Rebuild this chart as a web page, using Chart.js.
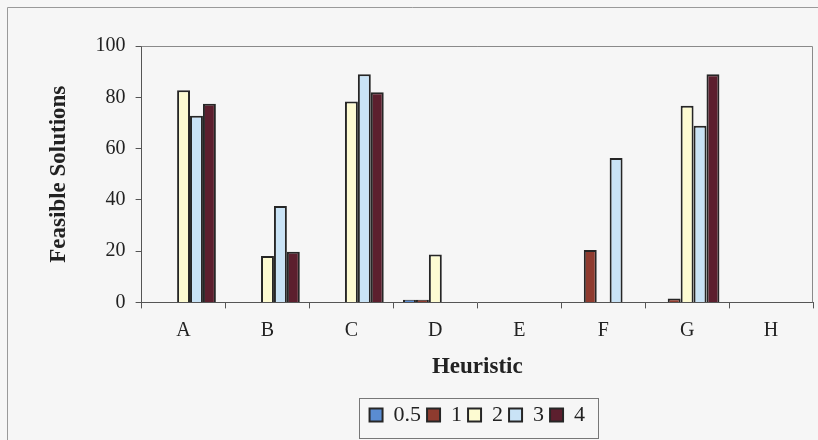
<!DOCTYPE html>
<html>
<head>
<meta charset="utf-8">
<script src="https://cdn.jsdelivr.net/npm/chart.js@4"></script>
<style>
    html, body { margin: 0; padding: 0; background: #f6f6f6; }
    #box { width: 818px; height: 440px; position: relative; }
</style>
</head>
<body>
<div id="box"><canvas id="grafico" width="818" height="440"></canvas></div>
<script>
const heuristicas = ['A', 'B', 'C', 'D', 'E', 'F', 'G', 'H'];
const series = ['0.5', '1', '2', '3', '4'];
const v05 = [0, 0, 0, 1, 0, 0, 0, 0];
const v1 = [0, 0, 0, 1, 0, 20.4, 1.5, 0];
const v2 = [82.7, 18.1, 78.4, 18.7, 0, 0, 76.7, 0];
const v3 = [72.8, 37.6, 89, 0, 0, 56.3, 68.9, 0];
const v4 = [77.5, 19.8, 82, 0, 0, 0, 89, 0];
const ticksY = [0, 20, 40, 60, 80, 100];

const valores = [v05, v1, v2, v3, v4];
const cores = ['#5a8cd2', '#8e3b2f', '#fdfbd2', '#c9e3f6', '#5c1f2e'];

const serif = '"Liberation Serif", "Times New Roman", serif';

// legenda centrada sob a area do grafico
const centrarLegenda = {
    id: 'centrarLegenda',
    afterLayout(chart) {
        const l = chart.legend;
        const a = chart.chartArea;
        l.left = a.left;
        l.right = a.right;
    }
};

// moldura externa, borda da area do grafico e caixa da legenda
const molduras = {
    id: 'molduras',
    afterDraw(chart) {
        const ctx = chart.ctx;
        const a = chart.chartArea;
        ctx.save();
        ctx.strokeStyle = '#8a8a8a';
        ctx.lineWidth = 1;
        ctx.beginPath();
        ctx.moveTo(a.left, a.top + 0.5);
        ctx.lineTo(a.right - 0.5, a.top + 0.5);
        ctx.lineTo(a.right - 0.5, a.bottom);
        ctx.stroke();

        ctx.strokeStyle = '#9a9a9a';
        ctx.beginPath();
        ctx.moveTo(7.5, 440);
        ctx.lineTo(7.5, 7.5);
        ctx.lineTo(818, 7.5);
        ctx.stroke();

        const l = chart.legend;
        const meioX = (l.left + l.right) / 2;
        const meioY = (l.top + l.bottom) / 2;
        const larg = l.lineWidths ? l.lineWidths[0] : 220;
        const esq = Math.round(meioX - larg / 2) - 8;
        const dir = Math.round(meioX + larg / 2) + 10;
        ctx.strokeStyle = '#777';
        ctx.strokeRect(esq + 0.5, Math.round(meioY - 19) + 0.5, dir - esq, 40);
        ctx.restore();
    }
};

new Chart(document.getElementById('grafico'), {
    type: 'bar',
    data: {
        labels: heuristicas,
        datasets: series.map((s, i) => ({
            label: s,
            data: valores[i],
            backgroundColor: cores[i],
            borderColor: '#262626',
            borderWidth: 2,
            barPercentage: 1,
            categoryPercentage: 0.77
        }))
    },
    options: {
        responsive: false,
        animation: false,
        layout: { padding: { top: 46, right: 5, left: 40, bottom: 4 } },
        plugins: {
            legend: {
                position: 'bottom',
                labels: {
                    color: '#222',
                    font: { family: serif, size: 22 },
                    boxWidth: 13,
                    boxHeight: 13,
                    padding: 6
                }
            },
            tooltip: { enabled: false }
        },
        scales: {
            x: {
                grid: { drawOnChartArea: false, tickLength: 6, color: '#555', offset: true },
                border: { color: '#555', width: 1 },
                ticks: { color: '#222', font: { family: serif, size: 20 }, padding: 10 },
                title: {
                    display: true,
                    text: 'Heuristic',
                    color: '#222',
                    font: { family: serif, size: 23, weight: 'bold' },
                    padding: { top: 1, bottom: 17 }
                }
            },
            y: {
                min: 0,
                max: 100,
                afterBuildTicks: scale => { scale.ticks = ticksY.map(v => ({ value: v })); },
                grid: { drawOnChartArea: false, tickLength: 6, color: '#555' },
                border: { color: '#555', width: 1 },
                ticks: { color: '#222', font: { family: serif, size: 20 }, padding: 10 },
                title: {
                    display: true,
                    text: 'Feasible Solutions',
                    color: '#222',
                    font: { family: serif, size: 23, weight: 'bold' },
                    padding: { top: 5, bottom: 13 }
                }
            }
        }
    },
    plugins: [centrarLegenda, molduras]
});
</script>
</body>
</html>
